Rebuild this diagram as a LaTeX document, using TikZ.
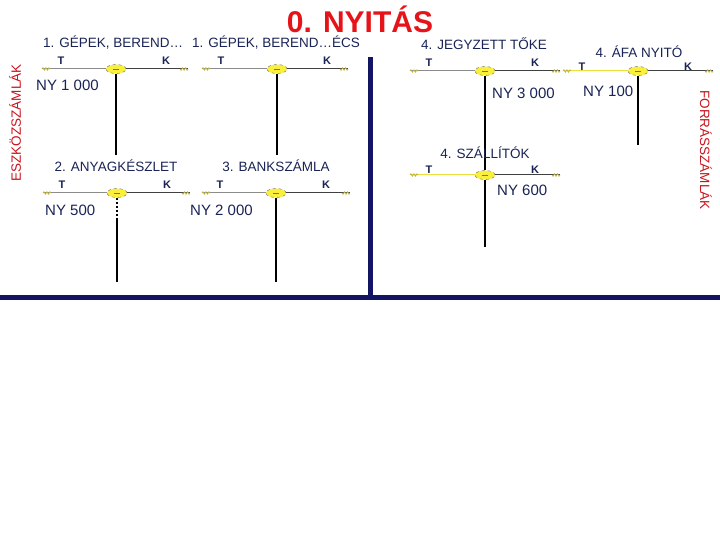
\documentclass[tikz,border=0pt]{standalone}
\usepackage{fontspec}
\setmainfont{Liberation Sans}
\usetikzlibrary{shapes.geometric,decorations.pathmorphing}
\definecolor{navy}{RGB}{20,20,100}
\definecolor{txtblue}{RGB}{25,35,85}
\definecolor{ttlred}{RGB}{230,20,25}
\definecolor{sidered}{RGB}{200,20,30}
\definecolor{ovalyel}{RGB}{250,240,60}
\definecolor{decoyel}{RGB}{190,180,70}
\definecolor{yelline}{RGB}{235,225,60}
\tikzset{
  hl/.style={line width=1pt},
  vline/.style={line width=2pt,black},
  oval/.style={ellipse,draw=black!60,dashed,fill=ovalyel,minimum width=20pt,minimum height=9pt,inner sep=0pt},
  deco/.style={draw=decoyel,line width=0.8pt,decorate,decoration={snake,amplitude=1.2pt,segment length=3pt}},
  ttl/.style={font=\fontsize{13.5}{15}\selectfont,text=txtblue,inner sep=0pt},
  nyt/.style={font=\fontsize{15}{17}\selectfont,text=txtblue,inner sep=0pt,anchor=west},
  tk/.style={font=\bfseries\fontsize{11}{12}\selectfont,text=txtblue,inner sep=0pt},
  side/.style={font=\fontsize{13.5}{15}\selectfont,text=sidered,inner sep=0pt},
  bar/.style={navy,line width=5pt}
}
\begin{document}
\begin{tikzpicture}[x=1pt,y=-1pt]
\useasboundingbox (0,0) rectangle (720,540);
% bars
\coordinate (vt) at (370,57);
\coordinate (vb) at (370,297);
\coordinate (hl0) at (0,297);
\coordinate (hr0) at (720,297);
\draw[bar] (vt) -- (vb);
\draw[bar] (hl0) -- (hr0);
% title
\node[font=\bfseries\fontsize{30}{32}\selectfont,text=ttlred,inner sep=0pt] (title) at (360,19) {0. NYITÁS};
% side labels
\node[side,rotate=90] (side1) at (15,123) {ESZKÖZSZÁMLÁK};
\node[side,rotate=-90] (side2) at (706,150) {FORRÁSSZÁMLÁK};
% account skeletons
\foreach \id/\xl/\xr/\xc/\y/\yb/\lc in {
  a1/42/188/116/69/155/black!45,
  a1b/202/348/277/69/155/black!45,
  a2/43/190/117/193/282/black!45,
  a3/202/350/276/193/282/black!45,
  a4/410/560/485/71/175/black!45,
  a5/563/713/638/71/145/yelline,
  a6/410/560/485/175/247/yelline}{
  \coordinate (\id-l) at (\xl,\y);
  \coordinate (\id-r) at (\xr,\y);
  \coordinate (\id-b) at (\xc,\yb);
  \node[oval] (\id-o) at (\xc,\y) {};
  \draw[hl,draw=\lc] (\id-l) -- (\id-o.west);
  \draw[hl,draw=black!75] (\id-o.east) -- (\id-r);
  \draw[deco] (\id-l) -- ++(8,0);
  \draw[deco] (\id-r) -- ++(-8,0);
  \draw[black!55,line width=0.6pt] (\id-o.center) ++(-3,0) -- ++(6,0);
}
% verticals
\draw[vline] (a1-o.south) -- (a1-b);
\draw[vline] (a1b-o.south) -- (a1b-b);
\coordinate (a2-m) at (117,220);
\draw[vline,dotted] (a2-o.south) -- (a2-m);
\draw[vline] (a2-m) -- (a2-b);
\draw[vline] (a3-o.south) -- (a3-b);
\draw[vline] (a4-o.south) -- (a6-o.north);
\draw[vline] (a5-o.south) -- (a5-b);
\draw[vline] (a6-o.south) -- (a6-b);
% account titles
\node[ttl,anchor=west] (t1) at (43,43) {1. GÉPEK, BEREND…};
\node[ttl,anchor=west] (t1b) at (192,43) {1. GÉPEK, BEREND…ÉCS};
\node[ttl] (t2) at (116,166) {2. ANYAGKÉSZLET};
\node[ttl] (t3) at (276,166) {3. BANKSZÁMLA};
\node[ttl] (t4) at (484,44) {4. JEGYZETT TŐKE};
\node[ttl] (t5) at (639,52) {4. ÁFA NYITÓ};
\node[ttl] (t6) at (485,153) {4. SZÁLLÍTÓK};
% T / K
\node[tk] (a1-T) at (61,61) {T};
\node[tk] (a1-K) at (166,61) {K};
\node[tk] (a1b-T) at (221,61) {T};
\node[tk] (a1b-K) at (327,61) {K};
\node[tk] (a2-T) at (62,185) {T};
\node[tk] (a2-K) at (167,185) {K};
\node[tk] (a3-T) at (220,185) {T};
\node[tk] (a3-K) at (326,185) {K};
\node[tk] (a4-T) at (429,63) {T};
\node[tk] (a4-K) at (535,63) {K};
\node[tk] (a5-T) at (582,67) {T};
\node[tk] (a5-K) at (688,67) {K};
\node[tk] (a6-T) at (429,170) {T};
\node[tk] (a6-K) at (535,170) {K};
% NY amounts
\node[nyt] (ny1) at (36,85) {NY 1 000};
\node[nyt] (ny2) at (45,210) {NY 500};
\node[nyt] (ny3) at (190,210) {NY 2 000};
\node[nyt] (ny4) at (492,93) {NY 3 000};
\node[nyt] (ny5) at (583,91) {NY 100};
\node[nyt] (ny6) at (497,190) {NY 600};
\end{tikzpicture}
\end{document}
